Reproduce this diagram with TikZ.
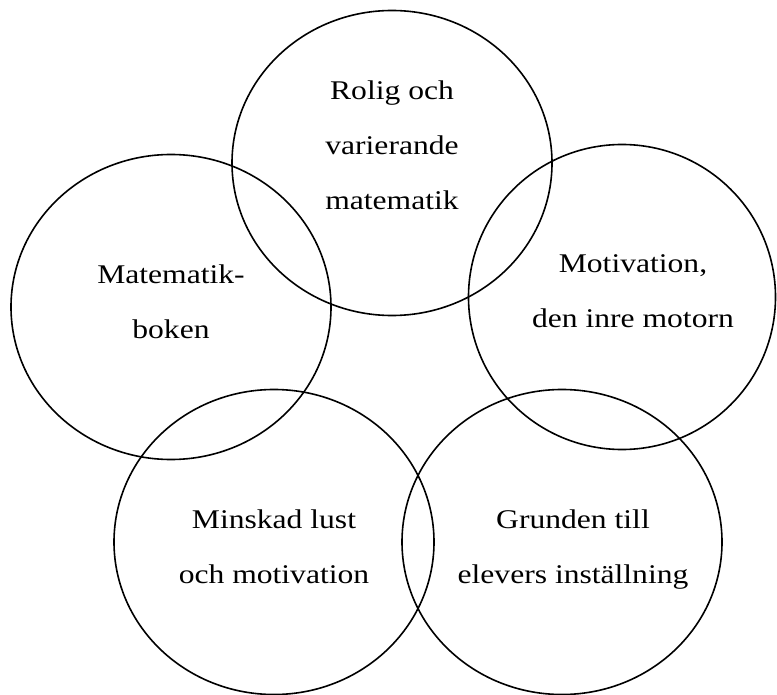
\documentclass[tikz,border=0pt]{standalone}
\usepackage{fontspec}
\setmainfont[FakeStretch=1.17]{Liberation Serif}
\usetikzlibrary{shapes.geometric}

\begin{document}
\begin{tikzpicture}[
        x=1pt, y=-1pt,
        every node/.style={font=\fontsize{27}{55}\selectfont},
        bubble/.style={draw, ellipse, line width=1.6pt, minimum width=320pt, minimum height=305pt, inner sep=0pt},
        caption/.style={align=center, anchor=base, inner sep=0pt}
    ]
    \useasboundingbox (0,0) rectangle (777,695);

    % Ellipses
    \node[bubble] (rolig) at (392,163) {};
    \node[bubble] (boken) at (171,307) {};
    \node[bubble, minimum width=307pt] (motor) at (622,297) {};
    \node[bubble] (lust) at (274,542) {};
    \node[bubble] (grund) at (562,542) {};

    % Labels (anchored at the baseline of the last line)
    \node[caption] (roligtext) at (rolig |- 0,210) {Rolig och\\varierande\\matematik};
    \node[caption] (bokentext) at (boken |- 0,338) {Matematik-\\boken};
    \node[caption] (motortext) at ([xshift=11pt]motor |- 0,327) {Motivation,\\den inre motorn};
    \node[caption] (lusttext) at (lust |- 0,583) {Minskad lust\\och motivation};
    \node[caption] (grundtext) at ([xshift=11pt]grund |- 0,583) {Grunden till\\elevers inställning};

\end{tikzpicture}
\end{document}
